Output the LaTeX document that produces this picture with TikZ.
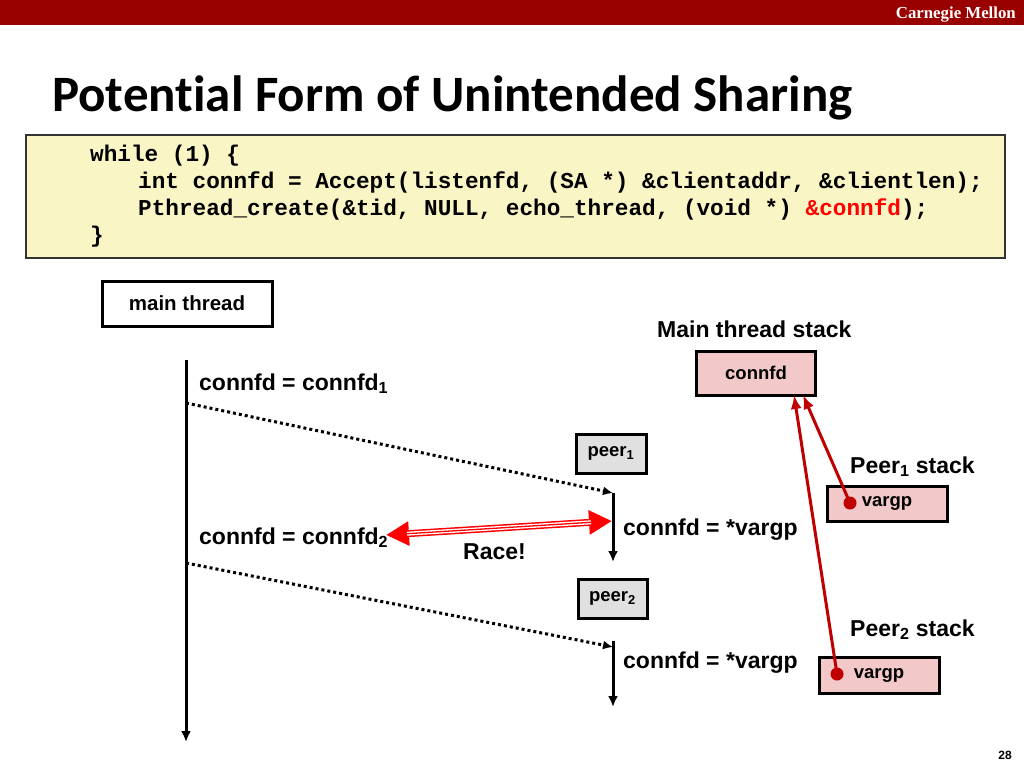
\documentclass[tikz,border=0pt]{standalone}
\usepackage{fontspec}
\setmainfont{Liberation Sans}
\newfontfamily\titlefont[Ligatures=NoCommon]{Carlito}
\newfontfamily\codefont{Liberation Mono}
\newfontfamily\logofont{Liberation Serif}
\usetikzlibrary{arrows.meta}
\definecolor{cmured}{RGB}{153,0,0}
\definecolor{codebg}{RGB}{249,245,196}
\definecolor{stackpink}{RGB}{242,200,200}
\definecolor{peergray}{RGB}{224,224,224}
\definecolor{ptrred}{RGB}{192,0,0}
\definecolor{racered}{RGB}{255,0,0}
\tikzset{
  lbl/.style={anchor=base west, inner sep=0pt, font=\fontsize{23}{27}\selectfont\bfseries},
  codeline/.style={anchor=base west, inner sep=0pt, font=\fontsize{22.7}{27}\codefont\bfseries},
  threadbox/.style={draw, line width=3pt, inner sep=0pt, font=\fontsize{18.5}{22}\selectfont\bfseries},
  stackbox/.style={threadbox, fill=stackpink},
  thread/.style={line width=3pt, -{Latex[length=11pt,width=10pt]}},
  spawn/.style={line width=3pt, dash pattern=on 3pt off 3pt, -{Latex[length=10pt,width=9pt]}},
  ptr/.style={ptrred, line width=3pt, -{Latex[length=14pt,width=11pt]}},
  dot/.style={circle, fill=ptrred, inner sep=0pt, minimum size=13pt}
}
\begin{document}
\begin{tikzpicture}[x=1pt, y=-1pt]
  \useasboundingbox (0,0) rectangle (1024,768);
  % header
  \fill[cmured] (0,0) rectangle (1024,25);
  \node[anchor=base east, inner sep=0pt, text=white, font=\fontsize{16.8}{20}\logofont\bfseries] (logo) at (1016,19) {Carnegie Mellon};
  \node[anchor=base west, inner sep=0pt, font=\fontsize{51}{56}\titlefont\bfseries] (title) at (52,111) {Potential Form of Unintended Sharing};
  % code
  \draw[fill=codebg, draw=black!80, line width=1.2pt] (26,135) rectangle (1005,258);
  \node[codeline] (code1) at (90,161) {while (1) \{};
  \node[codeline] (code2) at (138,188) {int connfd = Accept(listenfd, (SA *) \&clientaddr, \&clientlen);};
  \node[codeline] (code3) at (138,215) {Pthread\_create(\&tid, NULL, echo\_thread, (void *) \textcolor{racered}{\&connfd});};
  \node[codeline] (code4) at (90,242) {\}};
  % threads
  \node[threadbox, fill=white, minimum width=170pt, minimum height=45pt, font=\fontsize{20.5}{24}\selectfont\bfseries] (main) at (187,303.5) {main thread};
  \node[threadbox, fill=peergray, minimum width=70pt, minimum height=39pt] (peer1) at (611,453.5) {peer\textsubscript{1}};
  \node[threadbox, fill=peergray, minimum width=69pt, minimum height=39pt] (peer2) at (612.5,598.5) {peer\textsubscript{2}};
  \coordinate (mtop) at (186,360);
  \coordinate (mbot) at (186,742);
  \coordinate (fork1) at (186,403);
  \coordinate (fork2) at (186,563);
  \coordinate (p1top) at (613,493);
  \coordinate (p1bot) at (613,562);
  \coordinate (p2top) at (613,647);
  \coordinate (p2bot) at (613,707);
  \draw[thread] (mtop) -- (mbot);
  \draw[thread] (p1top) -- (p1bot);
  \draw[thread] (p2top |- 0,641) -- (p2bot);
  \draw[spawn] (fork1) -- (p1top);
  \draw[spawn] (fork2) -- (p2top);
  \node[lbl] (set1) at (199,390) {connfd = connfd\textsubscript{1}};
  \node[lbl] (set2) at (199,544) {connfd = connfd\textsubscript{2}};
  \node[lbl] (read1) at (623,535) {connfd = *vargp};
  \node[lbl] (read2) at (623,668) {connfd = *vargp};
  % race
  \coordinate (raceL) at (386,535);
  \coordinate (raceR) at (612,521);
  \draw[racered, line width=7pt, {Triangle[length=23pt,width=23pt]}-{Triangle[length=23pt,width=23pt]}] (raceL) -- (raceR);
  \draw[white, line width=4pt, shorten <=21pt, shorten >=21pt] (raceL) -- (raceR);
  \draw[racered, line width=1.3pt, shorten <=21pt, shorten >=21pt] (raceL) -- (raceR);
  \node[lbl] (race) at (463,559) {Race!};
  % stacks
  \node[lbl] (mstack) at (657,337) {Main thread stack};
  \node[stackbox, minimum width=119pt, minimum height=44pt] (mconn) at (756,373) {connfd};
  \node[lbl] (p1stack) at (850,473) {Peer\textsubscript{1} stack};
  \node[stackbox, minimum width=120pt, minimum height=35pt] (p1var) at (887,503.5) {vargp};
  \node[lbl] (p2stack) at (850,636) {Peer\textsubscript{2} stack};
  \node[stackbox, minimum width=120pt, minimum height=36pt] (p2var) at (879,675) {vargp};
  \node[dot] (d1) at (850,503) {};
  \node[dot] (d2) at (837,674) {};
  \draw[ptr] (d1.center) -- (803,395);
  \draw[ptr] (d2.center) -- (794,395);
  % page
  \node[anchor=base east, inner sep=0pt, font=\fontsize{12}{14}\selectfont\bfseries] (page) at (1012,759) {28};
\end{tikzpicture}
\end{document}
